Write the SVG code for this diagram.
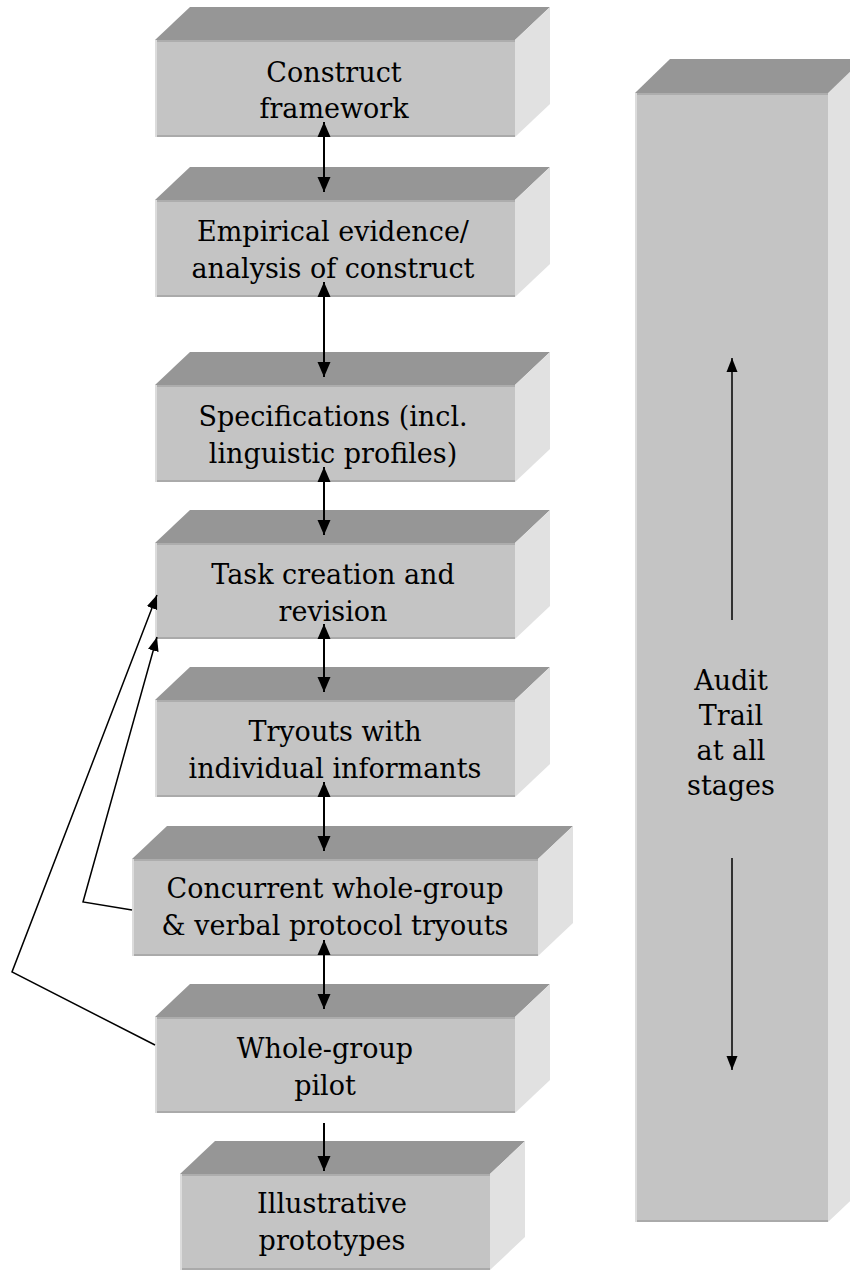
<svg xmlns="http://www.w3.org/2000/svg" width="850" height="1281" viewBox="0 0 850 1281">
<style>
.top{fill:#969696}
.front{fill:#c4c4c4}
.side{fill:#e1e1e1}
.eb{stroke:#aaaaaa;stroke-width:2}
.el{stroke:#dcdcdc;stroke-width:2}
.et{stroke:#adadad;stroke-width:2}
text{font-family:"DejaVu Serif","Liberation Serif",serif;font-size:27px;fill:#000;text-anchor:middle}
.thick{stroke:#000;stroke-width:2;fill:none}
.thin{stroke:#000;stroke-width:1.5;fill:none}
</style>
<defs>
<marker id="ah" markerUnits="userSpaceOnUse" markerWidth="15" markerHeight="14" refX="15" refY="7" orient="auto-start-reverse" viewBox="0 0 15 14"><path d="M0,0.5 L15,7 L0,13.5 z" fill="#000"/></marker>
<marker id="as" markerUnits="userSpaceOnUse" markerWidth="14" markerHeight="12" refX="14" refY="6" orient="auto-start-reverse" viewBox="0 0 14 12"><path d="M0,0.5 L14,6 L0,11.5 z" fill="#000"/></marker>
</defs>

<g id="audit">
<polygon class="top" points="635,93 670,59 885,59 850,93"/>
<polygon class="side" points="828,93 863,59 863,1189 828,1222"/>
<rect class="front" x="635" y="93" width="193" height="1129"/>
<line class="et" x1="635" y1="94" x2="828" y2="94"/>
<line class="eb" x1="635" y1="1221" x2="828" y2="1221"/>
<line class="el" x1="636" y1="93" x2="636" y2="1222"/>
<text x="731" y="690">Audit</text>
<text x="731" y="725">Trail</text>
<text x="731" y="760">at all</text>
<text x="731" y="795">stages</text>
<line class="thin" x1="732" y1="620" x2="732" y2="358" marker-end="url(#as)"/>
<line class="thin" x1="732" y1="858" x2="732" y2="1070" marker-end="url(#as)"/>
</g>

<g id="n1">
<polygon class="top" points="155,40 190,7 550,7 515,40"/>
<polygon class="side" points="515,40 550,7 550,104 515,137"/>
<rect class="front" x="155" y="40" width="360" height="97"/>
<line class="et" x1="155" y1="41" x2="515" y2="41"/><line class="eb" x1="155" y1="136" x2="515" y2="136"/><line class="el" x1="156" y1="40" x2="156" y2="137"/>
<text x="334" y="82">Construct</text>
<text x="334" y="118">framework</text>
</g>

<g id="n2">
<polygon class="top" points="155,200 190,167 550,167 515,200"/>
<polygon class="side" points="515,200 550,167 550,264 515,297"/>
<rect class="front" x="155" y="200" width="360" height="97"/>
<line class="et" x1="155" y1="201" x2="515" y2="201"/><line class="eb" x1="155" y1="296" x2="515" y2="296"/><line class="el" x1="156" y1="200" x2="156" y2="297"/>
<text x="333" y="241">Empirical evidence/</text>
<text x="333" y="278">analysis of construct</text>
</g>

<g id="n3">
<polygon class="top" points="155,385 190,352 550,352 515,385"/>
<polygon class="side" points="515,385 550,352 550,449 515,482"/>
<rect class="front" x="155" y="385" width="360" height="97"/>
<line class="et" x1="155" y1="386" x2="515" y2="386"/><line class="eb" x1="155" y1="481" x2="515" y2="481"/><line class="el" x1="156" y1="385" x2="156" y2="482"/>
<text x="333" y="426">Specifications (incl.</text>
<text x="333" y="463">linguistic profiles)</text>
</g>

<g id="n4">
<polygon class="top" points="155,543 190,510 550,510 515,543"/>
<polygon class="side" points="515,543 550,510 550,606 515,639"/>
<rect class="front" x="155" y="543" width="360" height="96"/>
<line class="et" x1="155" y1="544" x2="515" y2="544"/><line class="eb" x1="155" y1="638" x2="515" y2="638"/><line class="el" x1="156" y1="543" x2="156" y2="639"/>
<text x="333" y="584">Task creation and</text>
<text x="333" y="621">revision</text>
</g>

<g id="n5">
<polygon class="top" points="155,700 190,667 550,667 515,700"/>
<polygon class="side" points="515,700 550,667 550,764 515,797"/>
<rect class="front" x="155" y="700" width="360" height="97"/>
<line class="et" x1="155" y1="701" x2="515" y2="701"/><line class="eb" x1="155" y1="796" x2="515" y2="796"/><line class="el" x1="156" y1="700" x2="156" y2="797"/>
<text x="335" y="741">Tryouts with</text>
<text x="335" y="778">individual informants</text>
</g>

<g id="n6">
<polygon class="top" points="132,859 167,826 573,826 538,859"/>
<polygon class="side" points="538,859 573,826 573,923 538,956"/>
<rect class="front" x="132" y="859" width="406" height="97"/>
<line class="et" x1="132" y1="860" x2="538" y2="860"/><line class="eb" x1="132" y1="955" x2="538" y2="955"/><line class="el" x1="133" y1="859" x2="133" y2="956"/>
<text x="335" y="898">Concurrent whole-group</text>
<text x="335" y="935">&amp; verbal protocol tryouts</text>
</g>

<g id="n7">
<polygon class="top" points="155,1017 190,984 550,984 515,1017"/>
<polygon class="side" points="515,1017 550,984 550,1080 515,1113"/>
<rect class="front" x="155" y="1017" width="360" height="96"/>
<line class="et" x1="155" y1="1018" x2="515" y2="1018"/><line class="eb" x1="155" y1="1112" x2="515" y2="1112"/><line class="el" x1="156" y1="1017" x2="156" y2="1113"/>
<text x="325" y="1058">Whole-group</text>
<text x="325" y="1095">pilot</text>
</g>

<g id="n8">
<polygon class="top" points="180,1174 215,1141 525,1141 490,1174"/>
<polygon class="side" points="490,1174 525,1141 525,1237 490,1270"/>
<rect class="front" x="180" y="1174" width="310" height="96"/>
<line class="et" x1="180" y1="1175" x2="490" y2="1175"/><line class="eb" x1="180" y1="1269" x2="490" y2="1269"/><line class="el" x1="181" y1="1174" x2="181" y2="1270"/>
<text x="332" y="1213">Illustrative</text>
<text x="332" y="1250">prototypes</text>
</g>

<g id="connectors">
<line class="thick" x1="324" y1="122" x2="324" y2="192" marker-start="url(#ah)" marker-end="url(#ah)"/>
<line class="thick" x1="324" y1="282" x2="324" y2="377" marker-start="url(#ah)" marker-end="url(#ah)"/>
<line class="thick" x1="324" y1="467" x2="324" y2="535" marker-start="url(#ah)" marker-end="url(#ah)"/>
<line class="thick" x1="324" y1="624" x2="324" y2="692" marker-start="url(#ah)" marker-end="url(#ah)"/>
<line class="thick" x1="324" y1="782" x2="324" y2="851" marker-start="url(#ah)" marker-end="url(#ah)"/>
<line class="thick" x1="324" y1="940" x2="324" y2="1009" marker-start="url(#ah)" marker-end="url(#ah)"/>
<line class="thick" x1="324" y1="1123" x2="324" y2="1171" marker-end="url(#ah)"/>
<polyline class="thin" points="132,910 83,902 157,637" marker-end="url(#as)"/>
<polyline class="thin" points="155,1045 12,972 157,595" marker-end="url(#as)"/>
</g>
</svg>
